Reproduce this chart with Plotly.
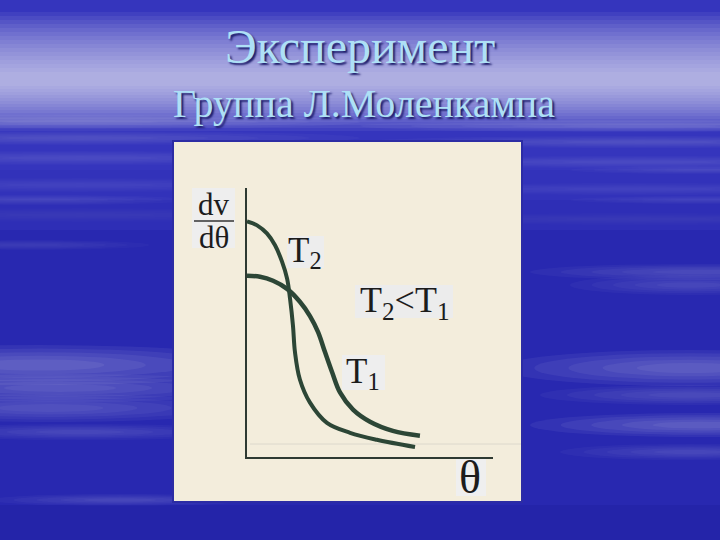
import plotly.graph_objects as go

# ---- data (arbitrary units) ----
t2_x = [0, 4.1, 8.1, 11.4, 14.2, 16.3, 17.5, 18.7, 19.5, 21.5, 25.6, 32.5, 41.9, 52.8, 68.3]
t2_y = [87.6, 86.1, 83.1, 78.7, 72.7, 66.3, 58.8, 48.7, 39.0, 28.8, 20.2, 12.7, 9.0, 6.4, 3.7]
t1_x = [0, 5.3, 10.6, 16.3, 21.5, 25.6, 28.9, 31.7, 34.6, 37.8, 43.1, 50.0, 59.3, 70.3]
t1_y = [67.4, 67.0, 65.5, 62.5, 57.7, 52.4, 46.4, 39.0, 31.5, 24.0, 17.6, 13.1, 9.7, 7.9]

title_main = "Эксперимент"
title_sub = "Группа Л.Моленкампа"

W, H = 720, 540


def px(x):
    return x / W


def py(y):
    return (H - y) / H


curve_col = "#2c4636"
fig = go.Figure()
fig.add_trace(go.Scatter(x=t2_x, y=t2_y, mode="lines", name="T2",
                         line=dict(color=curve_col, width=4, shape="spline", smoothing=1.0)))
fig.add_trace(go.Scatter(x=t1_x, y=t1_y, mode="lines", name="T1",
                         line=dict(color=curve_col, width=4.5, shape="spline", smoothing=1.0)))

shapes = []


def rect(x0, y0, x1, y1, color, opacity=1.0, layer="below"):
    shapes.append(dict(type="rect", xref="paper", yref="paper", x0=px(x0), x1=px(x1),
                       y0=py(y1), y1=py(y0), fillcolor=color, opacity=opacity,
                       line=dict(width=0), layer=layer))


def streak(cx, cy, rx, ry, strength, color="white"):
    n = 5
    for k in range(n):
        s = 1.0 - k * 0.18
        shapes.append(dict(type="circle", xref="paper", yref="paper",
                           x0=px(cx - rx * s), x1=px(cx + rx * s),
                           y0=py(cy + ry * s), y1=py(cy - ry * s),
                           fillcolor=color, opacity=strength / n, line=dict(width=0),
                           layer="below"))


# sky background
rect(0, 0, 720, 540, "#2828b0")
for hh in [230, 200, 170]:
    rect(0, 0, 720, hh, "#4040c8", 0.25)
# light band behind the title
for k in range(16):
    hh = 68 - k * 4
    rect(0, 80 - hh, 720, 80 + hh * 0.75, "white", 0.06)
# streaky region under the title
for cy, st in [(122, 0.18), (138, 0.14), (158, 0.12), (185, 0.08), (215, 0.06)]:
    streak(80, cy, 280, 7, st)
    streak(640, cy + 4, 280, 6, st)
# left streaks
for cx, cy, rx, ry, st in [(40, 365, 230, 20, 0.30), (60, 388, 200, 14, 0.25),
                           (50, 408, 190, 14, 0.22), (80, 432, 160, 8, 0.15),
                           (120, 500, 130, 6, 0.15), (40, 200, 150, 5, 0.12),
                           (30, 245, 120, 5, 0.10)]:
    streak(cx, cy, rx, ry, st)
# right streaks
for cx, cy, rx, ry, st in [(700, 272, 170, 8, 0.18), (690, 285, 120, 10, 0.15),
                           (690, 368, 190, 18, 0.28), (690, 395, 150, 10, 0.18),
                           (700, 425, 170, 12, 0.28), (690, 452, 130, 8, 0.15),
                           (700, 170, 130, 4, 0.12), (700, 200, 130, 4, 0.10)]:
    streak(cx, cy, rx, ry, st)
rect(0, 505, 720, 540, "#1e1ea0", 0.4)

# cream inset
rect(172, 140, 523, 503, "#2c2ca4", 1.0)
rect(174, 142, 521, 501, "#f3eddc", 1.0)
# faint scan line
shapes.append(dict(type="line", xref="paper", yref="paper", x0=px(250), x1=px(521),
                   y0=py(444), y1=py(444), line=dict(color="#dcd8cc", width=1), layer="below"))
# label patches
rect(192, 188, 235, 248, "#eeeeee", 1.0)
rect(287, 236, 324, 268, "#ededed", 1.0)
rect(355, 285, 453, 318, "#ececec", 1.0)
rect(342, 355, 385, 390, "#eeeeee", 1.0)
rect(456, 459, 486, 496, "#efefef", 1.0)
# fraction bar
shapes.append(dict(type="line", xref="paper", yref="paper", x0=px(194), x1=px(234),
                   y0=py(221), y1=py(221), line=dict(color="#333333", width=1.5)))

serif = "Liberation Serif, Times New Roman, serif"
ink = "#1c1c1c"


def ann(text, x, y, size, color=ink, **extra):
    f = dict(family=serif, size=size, color=color)
    f.update(extra)
    return dict(text=text, x=px(x), y=py(y), xref="paper", yref="paper", showarrow=False,
                xanchor="center", yanchor="middle", font=f)


annotations = [
    ann(title_main, 360, 47, 48, "#aee0f6", shadow="2px 2px 2px #1c1c6a"),
    ann(title_sub, 364, 103, 40, "#aee0f6", shadow="2px 2px 2px #1c1c6a"),
    ann("dv", 214, 204, 31),
    ann("dθ", 214, 237, 31),
    ann("T<sub>2</sub>", 305, 252, 35),
    ann("T<sub>2</sub>&lt;T<sub>1</sub>", 404, 302, 36),
    ann("T<sub>1</sub>", 363, 373, 35),
    ann("θ", 470, 477, 46),
]

axis_col = "#2e3a32"
fig.update_layout(
    width=W, height=H, autosize=False,
    margin=dict(l=0, r=0, t=0, b=0),
    paper_bgcolor="#2828b0", plot_bgcolor="rgba(0,0,0,0)",
    showlegend=False,
    shapes=shapes, annotations=annotations,
    xaxis=dict(domain=[px(247), px(493)], range=[0, 100], showline=True, linecolor=axis_col,
               linewidth=2, showgrid=False, zeroline=False, showticklabels=False, ticks="",
               fixedrange=True),
    yaxis=dict(domain=[py(457), py(188)], range=[0, 100], showline=True, linecolor=axis_col,
               linewidth=2, showgrid=False, zeroline=False, showticklabels=False, ticks="",
               fixedrange=True),
)

fig.write_html("out.html", config={"displayModeBar": False},
               post_script="document.body.style.margin='0';document.body.style.padding='0';")
